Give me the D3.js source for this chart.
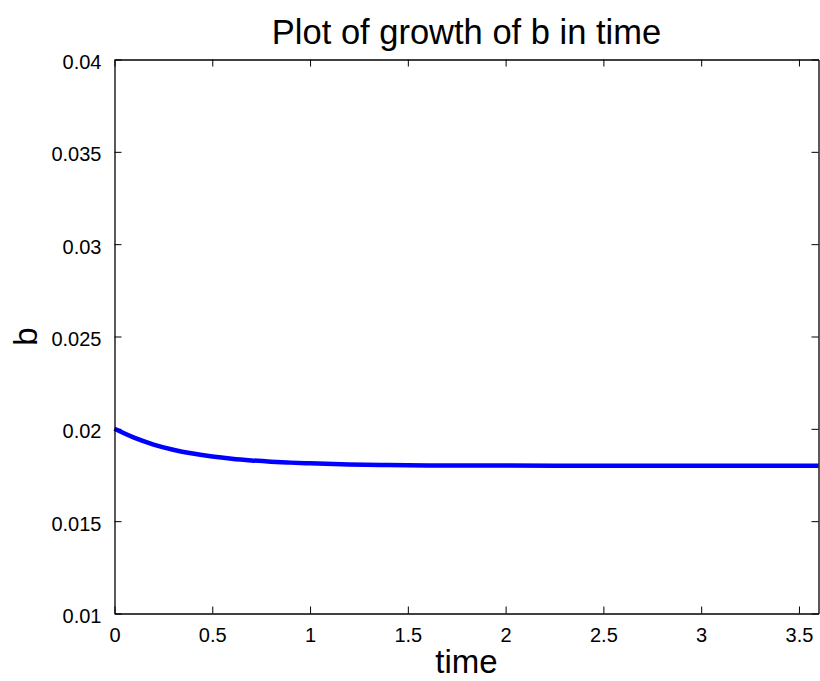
<!DOCTYPE html>
<html>
<head>
<meta charset="utf-8">
<script src="https://cdn.jsdelivr.net/npm/d3@7"></script>
<style>
  html, body { margin: 0; padding: 0; background: #fff; }
  svg { display: block; font-family: "Liberation Sans", Arial, Helvetica, sans-serif; }
</style>
</head>
<body>
<svg id="chart" width="820" height="681"></svg>
<script>
// Data
const timeValues = [0, 0.1, 0.2, 0.3, 0.4, 0.5, 0.6, 0.7, 0.8, 0.9, 1.0, 1.2, 1.4, 1.6, 1.8, 2.0, 2.5, 3.0, 3.6];
const bValues = [0.02, 0.01952, 0.01915, 0.01887, 0.01866, 0.01850, 0.01838, 0.01829, 0.01822, 0.01817, 0.01813, 0.01807, 0.01804, 0.01802, 0.01801, 0.01801, 0.01800, 0.01800, 0.01800];
const xTicks = [0, 0.5, 1, 1.5, 2, 2.5, 3, 3.5];
const yTicks = [0.01, 0.015, 0.02, 0.025, 0.03, 0.035, 0.04];
const xDomain = [0, 3.6];
const yDomain = [0.01, 0.04];
const titleText = "Plot of growth of b in time";
const xLabel = "time";
const yLabel = "b";

const svg = d3.select("#chart");
const mLeft = 114.5, mRight = 818.5, mTop = 59.5, mBottom = 613.5;

const x = d3.scaleLinear().domain(xDomain).range([mLeft, mRight]);
const y = d3.scaleLinear().domain(yDomain).range([mBottom, mTop]);

const tickLen = 7;
const fmt = d => String(d);

// Line
const data = timeValues.map((t, i) => ({t, b: bValues[i]}));
svg.append("path")
  .datum(data)
  .attr("fill", "none")
  .attr("stroke", "#0000ff")
  .attr("stroke-width", 4.5)
  .attr("stroke-linejoin", "round")
  .attr("d", d3.line().x(d => x(d.t)).y(d => y(d.b)).curve(d3.curveMonotoneX));

// Axes
const xAxis = svg.append("g").attr("transform", `translate(0,${mBottom})`)
  .call(d3.axisBottom(x).tickValues(xTicks).tickFormat(fmt).tickSizeInner(-tickLen).tickSizeOuter(0).tickPadding(11));
const xAxisTop = svg.append("g").attr("transform", `translate(0,${mTop})`)
  .call(d3.axisTop(x).tickValues(xTicks).tickFormat("").tickSizeInner(-tickLen).tickSizeOuter(0));
const yAxis = svg.append("g").attr("transform", `translate(${mLeft},0)`)
  .call(d3.axisLeft(y).tickValues(yTicks).tickFormat(fmt).tickSizeInner(-tickLen).tickSizeOuter(0).tickPadding(13));
const yAxisRight = svg.append("g").attr("transform", `translate(${mRight},0)`)
  .call(d3.axisRight(y).tickValues(yTicks).tickFormat("").tickSizeInner(-tickLen).tickSizeOuter(0));

[xAxis, xAxisTop, yAxis, yAxisRight].forEach(g => {
  g.select(".domain").attr("stroke", "#000").attr("stroke-width", 1.3);
  g.selectAll(".tick line").attr("stroke", "#000").attr("stroke-width", 1);
  g.selectAll(".tick text").attr("fill", "#000").style("font-size", "20px")
    .style("font-family", '"Liberation Sans", Arial, sans-serif');
});
xAxis.selectAll(".tick text").attr("dy", "0.85em");
yAxis.selectAll(".tick text").attr("dy", "0.45em");

// Title
svg.append("text")
  .attr("x", (mLeft + mRight) / 2)
  .attr("y", 44)
  .attr("text-anchor", "middle")
  .style("font-size", "34.5px")
  .text(titleText);

// X label
svg.append("text")
  .attr("x", (mLeft + mRight) / 2)
  .attr("y", 673)
  .attr("text-anchor", "middle")
  .style("font-size", "33px")
  .text(xLabel);

// Y label
svg.append("text")
  .attr("transform", `translate(37,${(mTop + mBottom) / 2}) rotate(-90)`)
  .attr("text-anchor", "middle")
  .style("font-size", "33px")
  .text(yLabel);
</script>
</body>
</html>
